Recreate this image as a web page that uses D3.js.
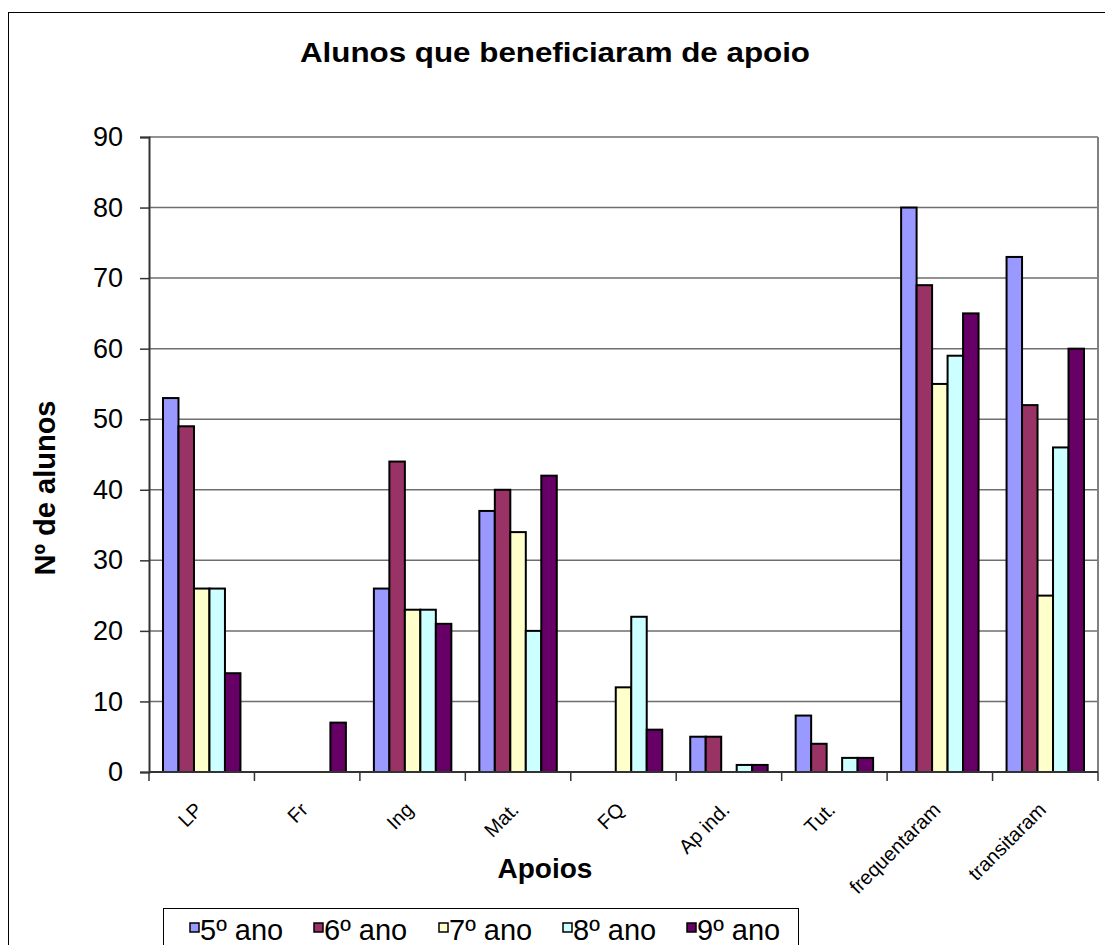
<!DOCTYPE html>
<html>
<head>
<meta charset="utf-8">
<script src="https://cdn.jsdelivr.net/npm/d3@7"></script>
<style>
  body { margin: 0; background: #fff; }
  text { font-family: "Liberation Sans", Arial, sans-serif; }
</style>
</head>
<body>
<div class="app"></div>
<script>
// chart data
var categories = ["LP", "Fr", "Ing", "Mat.", "FQ", "Ap ind.", "Tut.", "frequentaram", "transitaram"];
var seriesNames = ["5º ano", "6º ano", "7º ano", "8º ano", "9º ano"];
var seriesColors = ["#9999ff", "#993366", "#ffffcc", "#ccffff", "#660066"];
var ano5 = [53, 0, 26, 37, 0, 5, 8, 80, 73];
var ano6 = [49, 0, 44, 40, 0, 5, 4, 69, 52];
var ano7 = [26, 0, 23, 34, 12, 0, 0, 55, 25];
var ano8 = [26, 0, 23, 20, 22, 1, 2, 59, 46];
var ano9 = [14, 7, 21, 42, 6, 1, 2, 65, 60];
var yTicks = [0, 10, 20, 30, 40, 50, 60, 70, 80, 90];

var series = [ano5, ano6, ano7, ano8, ano9];

var width = 1105, height = 945;
var plot = {left: 149, right: 1098, top: 137, bottom: 772};

var svg = d3.select(".app").append("svg").attr("width", width).attr("height", height);

// outer chart frame (cropped at right/bottom like the picture)
svg.append("rect").attr("x", 8.5).attr("y", 12.5).attr("width", 1120).attr("height", 960)
  .attr("fill", "#fff").attr("stroke", "#000").attr("stroke-width", 1);

var x0 = d3.scaleBand().domain(categories).range([plot.left, plot.right]);
var x1 = d3.scaleBand().domain(d3.range(series.length)).range([14, x0.bandwidth() - 14]);
var y = d3.scaleLinear().domain([0, 90]).range([plot.bottom, plot.top]);

// gridlines
svg.append("g").selectAll("line").data(yTicks.slice(1)).enter().append("line")
  .attr("x1", plot.left).attr("x2", plot.right)
  .attr("y1", function(d){ return y(d); }).attr("y2", function(d){ return y(d); })
  .attr("stroke", "#6e6e6e").attr("stroke-width", 1.5);
// right border of plot area
svg.append("line").attr("x1", plot.right).attr("x2", plot.right).attr("y1", plot.top).attr("y2", plot.bottom)
  .attr("stroke", "#808080").attr("stroke-width", 2);

// bars
var groups = svg.append("g").selectAll("g").data(categories).enter().append("g")
  .attr("transform", function(d){ return "translate(" + x0(d) + ",0)"; });
groups.selectAll("rect").data(function(d, i){
    return series.map(function(s, k){ return {k: k, v: s[i]}; }).filter(function(e){ return e.v > 0; });
  }).enter().append("rect")
  .attr("x", function(d){ return x1(d.k); })
  .attr("width", x1.bandwidth())
  .attr("y", function(d){ return y(d.v); })
  .attr("height", function(d){ return y(0) - y(d.v); })
  .attr("fill", function(d){ return seriesColors[d.k]; })
  .attr("stroke", "#000").attr("stroke-width", 2);

// y axis
var yAxis = svg.append("g").attr("transform", "translate(" + plot.left + ",0)")
  .call(d3.axisLeft(y).tickValues(yTicks).tickSize(9).tickPadding(17));
yAxis.select(".domain").attr("stroke", "#333").attr("stroke-width", 2);
yAxis.selectAll(".tick line").attr("stroke", "#333").attr("stroke-width", 1.5);
yAxis.selectAll(".tick text").attr("font-size", 27).attr("fill", "#000")
  .style("font-family", "'Liberation Sans', Arial, sans-serif");

// x axis
var tickPos = categories.map(function(c){ return x0(c); }).concat([plot.right]);
svg.append("line").attr("x1", plot.left).attr("x2", plot.right).attr("y1", plot.bottom).attr("y2", plot.bottom)
  .attr("stroke", "#333").attr("stroke-width", 2);
svg.append("g").selectAll("line").data(tickPos).enter().append("line")
  .attr("x1", function(d){ return d; }).attr("x2", function(d){ return d; })
  .attr("y1", plot.bottom).attr("y2", plot.bottom + 9)
  .attr("stroke", "#333").attr("stroke-width", 1.5);
svg.append("g").selectAll("text").data(categories).enter().append("text")
  .attr("transform", function(d){
    return "translate(" + (x0(d) + x0.bandwidth() / 2 + 2) + "," + (plot.bottom + 39) + ") rotate(-45)";
  })
  .attr("text-anchor", "end").attr("font-size", 20).attr("fill", "#000")
  .text(function(d){ return d; });

// titles
svg.append("text").attr("x", 555).attr("y", 62).attr("text-anchor", "middle")
  .attr("font-size", 28).attr("font-weight", "bold")
  .attr("textLength", 510).attr("lengthAdjust", "spacingAndGlyphs")
  .text("Alunos que beneficiaram de apoio");
svg.append("text").attr("x", 545).attr("y", 878).attr("text-anchor", "middle")
  .attr("font-size", 28).attr("font-weight", "bold").text("Apoios");
svg.append("text").attr("transform", "translate(55,488) rotate(-90)").attr("text-anchor", "middle")
  .attr("font-size", 29).attr("font-weight", "bold").text("Nº de alunos");

// legend
var legend = svg.append("g");
legend.append("rect").attr("x", 163.5).attr("y", 908.5).attr("width", 635).attr("height", 60)
  .attr("fill", "#fff").attr("stroke", "#000").attr("stroke-width", 1);
var legendX = [189, 313, 438, 562, 686];
var items = legend.selectAll("g").data(seriesNames).enter().append("g")
  .attr("transform", function(d, i){ return "translate(" + legendX[i] + ",0)"; });
items.append("rect").attr("x", 1).attr("y", 923).attr("width", 9).attr("height", 9)
  .attr("fill", function(d, i){ return seriesColors[i]; })
  .attr("stroke", "#000").attr("stroke-width", 1.5);
items.append("text").attr("x", 11).attr("y", 940).attr("font-size", 29).attr("fill", "#000")
  .text(function(d){ return d; });
</script>
</body>
</html>
